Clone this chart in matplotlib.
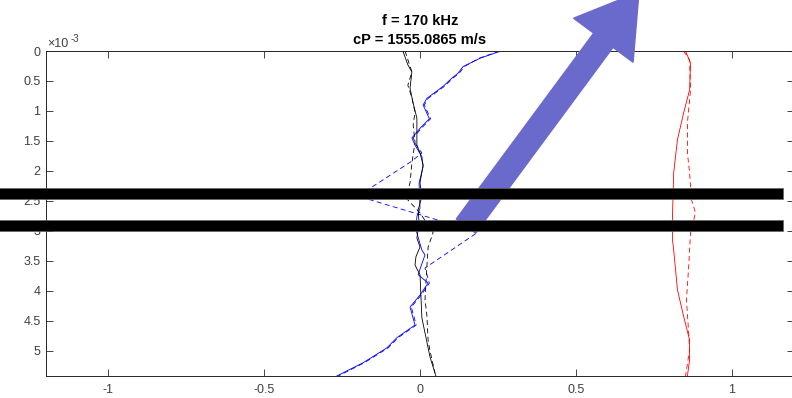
import matplotlib
matplotlib.use("Agg")
import matplotlib.pyplot as plt
import matplotlib.patches as mpatches
from matplotlib.transforms import Affine2D

# ---------------- data (depth in units of 1e-3) ----------------
blue_x = [0.26, 0.193, 0.138, 0.122, 0.103, 0.074, 0.022, 0.01, 0.03, 0.0, -0.026, -0.016,
          0.006, 0.01, -0.003, 0.0, -0.01, -0.013, 0.006, 0.016, -0.006, 0.026, 0.0, -0.032,
          -0.016, -0.074, -0.106, -0.183, -0.267]
blue_y = [0.0, 0.12, 0.26, 0.37, 0.45, 0.59, 0.79, 0.9, 1.13, 1.29, 1.45, 1.57,
          1.76, 1.93, 2.2, 2.62, 2.76, 2.98, 3.32, 3.4, 3.73, 3.87, 4.07, 4.27,
          4.57, 4.78, 4.95, 5.2, 5.42]

bluedash_x = [0.255, 0.19, 0.142, 0.126, 0.106, 0.078, 0.026, 0.014, 0.034, 0.004, -0.022, -0.012,
              0.006, -0.03, -0.199, 0.186, 0.016, 0.03, 0.004, -0.028,
              -0.012, -0.07, -0.102, -0.179, -0.262]
bluedash_y = [0.0, 0.12, 0.26, 0.37, 0.45, 0.59, 0.79, 0.9, 1.13, 1.29, 1.45, 1.57,
              1.70, 1.85, 2.42, 3.02, 3.62, 3.87, 4.07, 4.27,
              4.57, 4.78, 4.95, 5.2, 5.42]

black_x = [-0.055, -0.039, -0.026, -0.032, -0.022, -0.01, -0.01, 0.0, 0.01, 0.0, 0.006, -0.006,
           -0.003, -0.01, 0.0, -0.013, -0.016, 0.0, 0.006, 0.016, 0.032, 0.051]
black_y = [0.0, 0.23, 0.35, 0.62, 0.87, 1.12, 1.57, 1.7, 1.9, 2.2, 2.43, 2.65,
           2.87, 3.12, 3.27, 3.43, 3.57, 3.73, 4.45, 4.7, 5.1, 5.42]

blackdash_x = [-0.048, -0.026, -0.039, -0.026, -0.016, -0.022, -0.016, -0.026, -0.032, -0.045,
               0.0, 0.042, 0.026, 0.022, 0.016, 0.022, 0.026, 0.032, 0.048]
blackdash_y = [0.0, 0.35, 0.57, 0.78, 1.02, 1.23, 1.52, 1.87, 2.2, 2.45,
               2.7, 3.03, 3.27, 3.6, 4.15, 4.4, 4.82, 5.0, 5.37]

red_x = [0.852, 0.868, 0.865, 0.846, 0.826, 0.814, 0.81, 0.81, 0.814, 0.826, 0.846, 0.865, 0.865, 0.858]
red_y = [0.0, 0.2, 0.65, 1.03, 1.48, 2.03, 2.77, 3.15, 3.32, 3.98, 4.43, 4.82, 5.15, 5.42]

reddash_x = [0.846, 0.865, 0.868, 0.858, 0.858, 0.865, 0.871, 0.884, 0.868, 0.862, 0.855, 0.862, 0.865, 0.852]
reddash_y = [0.0, 0.15, 0.65, 1.2, 1.7, 2.03, 2.48, 2.7, 3.03, 3.6, 4.15, 4.7, 4.98, 5.42]

x_ticks = [-1, -0.5, 0, 0.5, 1]
x_ticklabels = ['-1', '-0.5', '0', '0.5', '1']
y_ticks = [0, 0.5, 1, 1.5, 2, 2.5, 3, 3.5, 4, 4.5, 5]
y_ticklabels = ['0', '0.5', '1', '1.5', '2', '2.5', '3', '3.5', '4', '4.5', '5']
title_lines = ['f = 170 kHz', 'cP = 1555.0865 m/s']

# ---------------- figure ----------------
W, H = 792, 398
plt.rcParams['font.family'] = ['Liberation Sans', 'DejaVu Sans']
fig = plt.figure(figsize=(W / 100, H / 100), dpi=100)
ax = fig.add_axes([46 / W, 22 / H, 748 / W, 325 / H])

lw = 0.6
ax.plot(blue_x, blue_y, color='#0000ff', lw=lw)
ax.plot(bluedash_x, bluedash_y, color='#0000ff', lw=lw, ls=(0, (6, 4)))
ax.plot(black_x, black_y, color='black', lw=lw)
ax.plot(blackdash_x, blackdash_y, color='black', lw=lw, ls=(0, (6, 4)))
ax.plot(red_x, red_y, color='#ff0000', lw=lw)
ax.plot(reddash_x, reddash_y, color='#ff0000', lw=lw, ls=(0, (6, 4)))

ax.set_xlim(-1.2, 1.2)
ax.set_ylim(5.42, 0)
ax.set_xticks(x_ticks)
ax.set_xticklabels(x_ticklabels)
ax.set_yticks(y_ticks)
ax.set_yticklabels(y_ticklabels)
ax.tick_params(direction='in', length=5, width=0.6, colors='#262626', labelcolor='#404040',
               labelsize=9, top=True, right=True)
ax.tick_params(axis='x', pad=6)
ax.tick_params(axis='y', pad=4)
for s in ax.spines.values():
    s.set_color('#262626')
    s.set_linewidth(0.7)

ax.set_title('\n'.join(title_lines), fontsize=10.5, fontweight='bold', pad=5,
             linespacing=1.5, color='black')

# exponent label
fig.text(47 / W, 1 - 47 / H, '×10', fontsize=9, color='#404040', va='baseline', ha='left')
fig.text(71 / W, 1 - 42 / H, '-3', fontsize=7, color='#404040', va='baseline', ha='left')

# ---------------- overlays (pixel space, y downward) ----------------
pix = Affine2D().scale(1 / W, -1 / H).translate(0, 1) + fig.transFigure
arrow = mpatches.FancyArrow(466, 226, 173, -234, width=24, head_width=74, head_length=60,
                            length_includes_head=True, color='#6a6acd', transform=pix,
                            clip_on=False, zorder=10)
fig.patches.append(arrow)
for top in (188, 220):
    bar = mpatches.Rectangle((-2, top), 785, 11, facecolor='black', edgecolor='#606060',
                             linewidth=0.5, transform=pix, clip_on=False, zorder=11)
    fig.patches.append(bar)

fig.savefig('out.png', dpi=100)
